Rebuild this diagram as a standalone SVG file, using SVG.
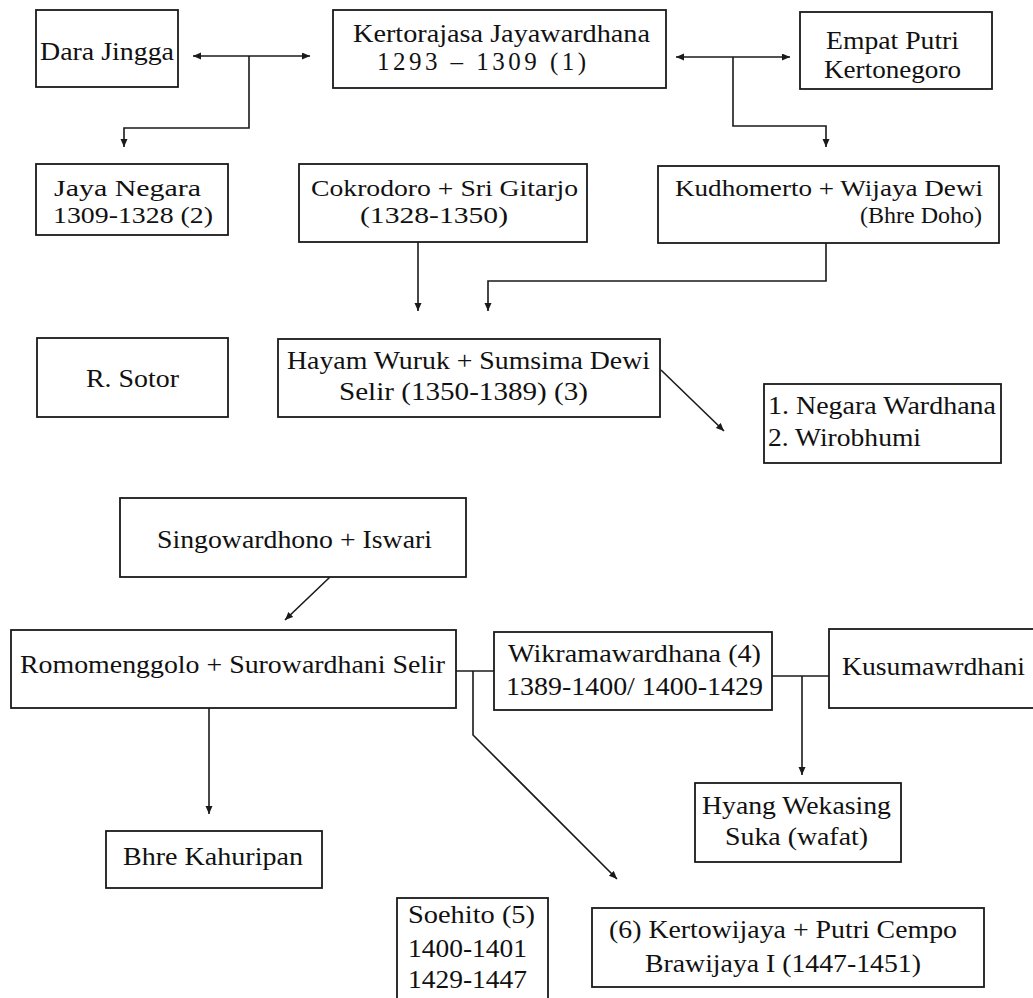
<svg xmlns="http://www.w3.org/2000/svg" width="1033" height="998" viewBox="0 0 1033 998">
<defs>
<style>
.box{fill:#fff;stroke:#1a1a1a;stroke-width:1.8}
.t{font-family:"Liberation Serif","Times New Roman",serif;font-size:25px;fill:#111}
.s{font-size:24px}
.c{fill:none;stroke:#1a1a1a;stroke-width:1.6}
</style>
<marker id="ah" markerUnits="userSpaceOnUse" markerWidth="10" markerHeight="8" refX="8" refY="3.5" orient="auto-start-reverse">
<path d="M0,0 L8,3.5 L0,7 z" fill="#1a1a1a"/>
</marker>
</defs>
<rect width="1033" height="998" fill="#fff"/>
<g id="connectors">
<path class="c" d="M193,56 H310" marker-start="url(#ah)" marker-end="url(#ah)"/>
<path class="c" d="M249,56 V128 H124 V147" marker-end="url(#ah)"/>
<path class="c" d="M676,57 H790" marker-start="url(#ah)" marker-end="url(#ah)"/>
<path class="c" d="M733,57 V126 H826 V147" marker-end="url(#ah)"/>
<path class="c" d="M418,242 V311" marker-end="url(#ah)"/>
<path class="c" d="M826,243 V281 H488 V311" marker-end="url(#ah)"/>
<path class="c" d="M661,370 L724,431" marker-end="url(#ah)"/>
<path class="c" d="M330,577 L285,620" marker-end="url(#ah)"/>
<path class="c" d="M456,671 H494"/>
<path class="c" d="M473,671 V735 L617,879" marker-end="url(#ah)"/>
<path class="c" d="M209,708 V814" marker-end="url(#ah)"/>
<path class="c" d="M772,676 H829"/>
<path class="c" d="M802,676 V775" marker-end="url(#ah)"/>
</g>
<g id="dara"><rect class="box" x="36" y="10" width="142" height="77"/><text class="t" x="40" y="60" textLength="134" lengthAdjust="spacingAndGlyphs">Dara Jingga</text></g>
<g id="kertorajasa"><rect class="box" x="333" y="10" width="333" height="78"/><text class="t" x="353" y="42" textLength="297" lengthAdjust="spacingAndGlyphs">Kertorajasa Jayawardhana</text><text class="t" x="377" y="70" textLength="209">1293 – 1309 (1)</text></g>
<g id="empat"><rect class="box" x="800" y="12" width="192" height="77"/><text class="t" x="826" y="49" textLength="133" lengthAdjust="spacingAndGlyphs">Empat Putri</text><text class="t" x="824" y="78" textLength="137" lengthAdjust="spacingAndGlyphs">Kertonegoro</text></g>
<g id="jaya"><rect class="box" x="36" y="164" width="192" height="71"/><text class="t s" x="54" y="196" textLength="147" lengthAdjust="spacingAndGlyphs">Jaya Negara</text><text class="t s" x="53" y="223" textLength="160" lengthAdjust="spacingAndGlyphs">1309-1328 (2)</text></g>
<g id="cokrodoro"><rect class="box" x="299" y="164" width="288" height="78"/><text class="t s" x="311" y="196" textLength="267" lengthAdjust="spacingAndGlyphs">Cokrodoro + Sri Gitarjo</text><text class="t s" x="360" y="223" textLength="148" lengthAdjust="spacingAndGlyphs">(1328-1350)</text></g>
<g id="kudhomerto"><rect class="box" x="658" y="166" width="341" height="77"/><text class="t s" x="675" y="196" textLength="308" lengthAdjust="spacingAndGlyphs">Kudhomerto + Wijaya Dewi</text><text class="t s" x="982" y="223" text-anchor="end">(Bhre Doho)</text></g>
<g id="sotor"><rect class="box" x="37" y="338" width="191" height="79"/><text class="t" x="86" y="387" textLength="93" lengthAdjust="spacingAndGlyphs">R. Sotor</text></g>
<g id="hayam"><rect class="box" x="278" y="339" width="382" height="78"/><text class="t" x="287" y="369" textLength="363" lengthAdjust="spacingAndGlyphs">Hayam Wuruk + Sumsima Dewi</text><text class="t" x="339" y="400" textLength="249" lengthAdjust="spacingAndGlyphs">Selir (1350-1389) (3)</text></g>
<g id="negara"><rect class="box" x="764" y="384" width="237" height="79"/><text class="t" x="768" y="414" textLength="228" lengthAdjust="spacingAndGlyphs">1. Negara Wardhana</text><text class="t" x="768" y="446" textLength="153" lengthAdjust="spacingAndGlyphs">2. Wirobhumi</text></g>
<g id="singo"><rect class="box" x="120" y="498" width="346" height="79"/><text class="t" x="157" y="548" textLength="275" lengthAdjust="spacingAndGlyphs">Singowardhono + Iswari</text></g>
<g id="romo"><rect class="box" x="11" y="630" width="445" height="78"/><text class="t" x="20" y="673" textLength="425" lengthAdjust="spacingAndGlyphs">Romomenggolo + Surowardhani Selir</text></g>
<g id="wikrama"><rect class="box" x="494" y="632" width="278" height="78"/><text class="t" x="508" y="662" textLength="253" lengthAdjust="spacingAndGlyphs">Wikramawardhana (4)</text><text class="t" x="506" y="695" textLength="257" lengthAdjust="spacingAndGlyphs">1389-1400/ 1400-1429</text></g>
<g id="kusuma"><rect class="box" x="829" y="629" width="215" height="79"/><text class="t" x="842" y="675" textLength="183" lengthAdjust="spacingAndGlyphs">Kusumawrdhani</text></g>
<g id="hyang"><rect class="box" x="695" y="783" width="206" height="79"/><text class="t" x="702" y="814" textLength="189" lengthAdjust="spacingAndGlyphs">Hyang Wekasing</text><text class="t" x="725" y="845" textLength="143" lengthAdjust="spacingAndGlyphs">Suka (wafat)</text></g>
<g id="bhre"><rect class="box" x="106" y="831" width="216" height="57"/><text class="t" x="123" y="865" textLength="180" lengthAdjust="spacingAndGlyphs">Bhre Kahuripan</text></g>
<g id="soehito"><rect class="box" x="397" y="898" width="151" height="110"/><text class="t" x="408" y="923" textLength="127" lengthAdjust="spacingAndGlyphs">Soehito (5)</text><text class="t" x="408" y="957" textLength="119" lengthAdjust="spacingAndGlyphs">1400-1401</text><text class="t" x="408" y="988" textLength="119" lengthAdjust="spacingAndGlyphs">1429-1447</text></g>
<g id="kertowijaya"><rect class="box" x="592" y="908" width="392" height="79"/><text class="t" x="609" y="938" textLength="348" lengthAdjust="spacingAndGlyphs">(6) Kertowijaya + Putri Cempo</text><text class="t" x="645" y="972" textLength="276" lengthAdjust="spacingAndGlyphs">Brawijaya I (1447-1451)</text></g>
</svg>
